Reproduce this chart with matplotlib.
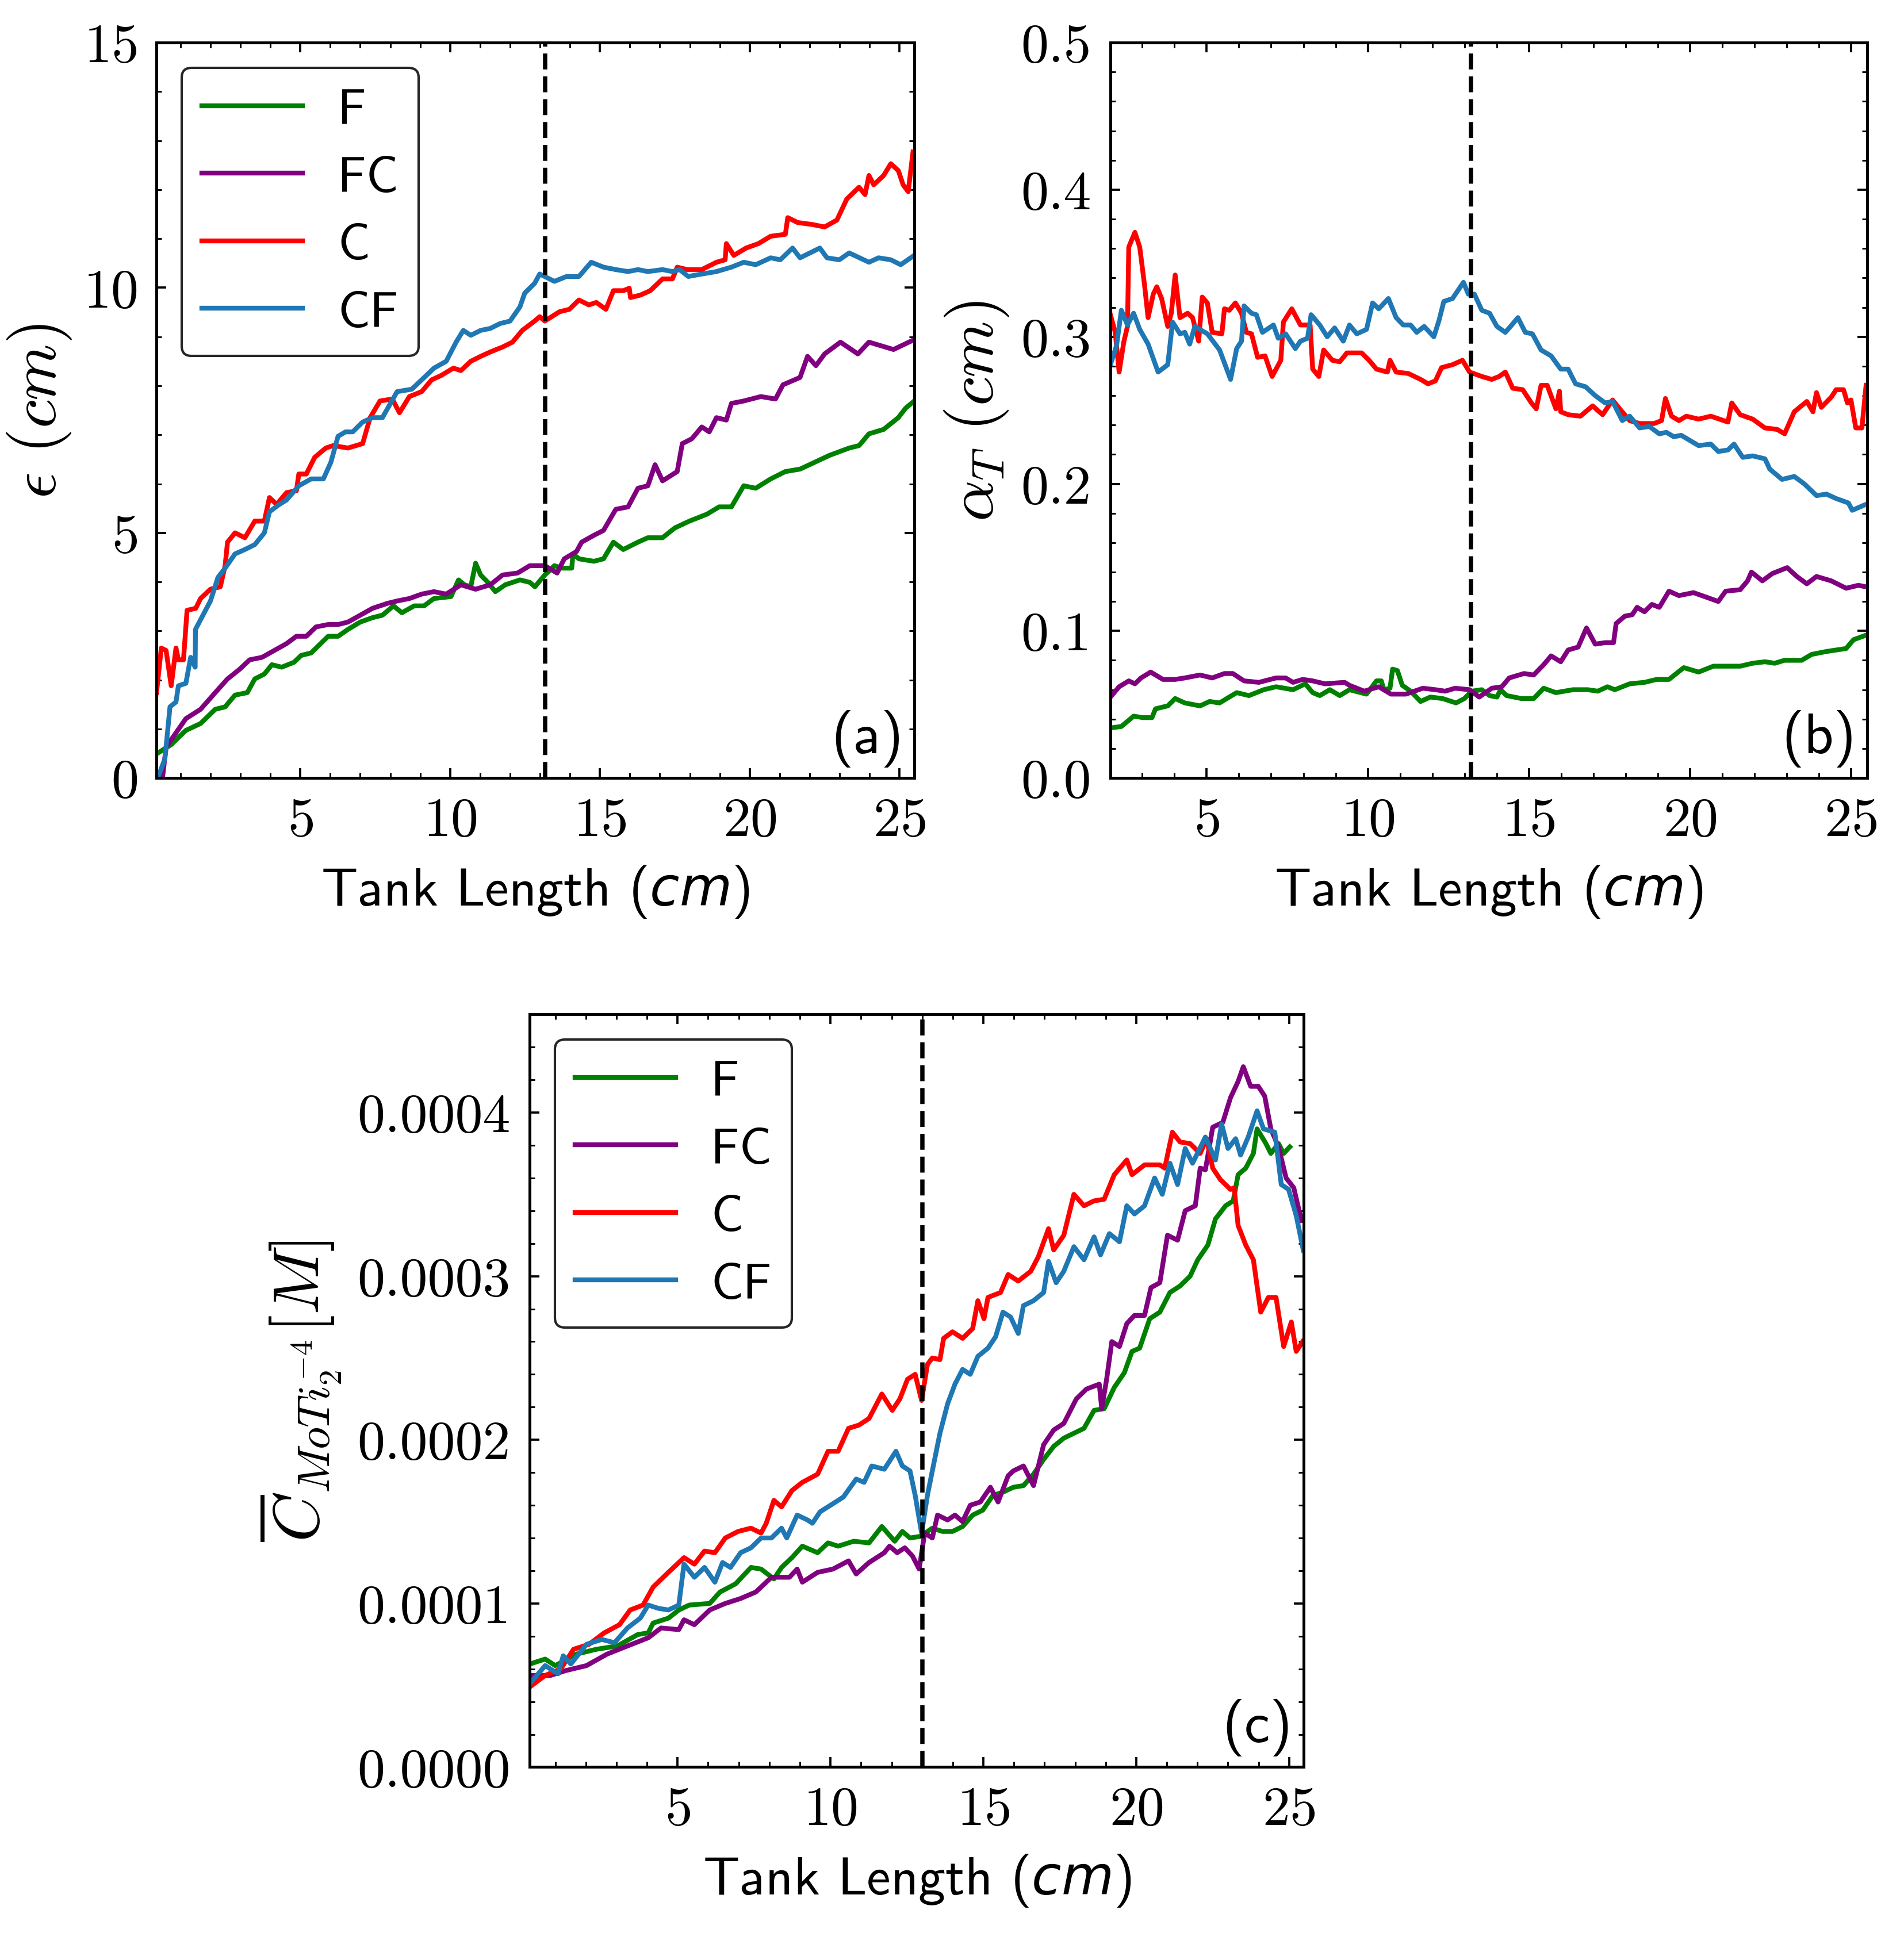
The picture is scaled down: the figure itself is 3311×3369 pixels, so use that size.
import matplotlib.pyplot as plt
from matplotlib.ticker import MultipleLocator, FormatStrFormatter

# ---- panel (a): epsilon (cm) vs tank length (cm) ----
aF_x = [0.2, 0.69, 1.18, 1.67, 2.16, 2.49, 2.82, 3.23, 3.48, 3.8,
        4.05, 4.38, 4.79, 5.03, 5.36, 5.61, 5.93, 6.26, 6.59, 7.0,
        7.41, 7.74, 8.11, 8.39, 8.8, 9.13, 9.46, 10.03, 10.28, 10.48,
        10.69, 10.85, 11.02, 11.26, 11.51, 11.84, 12.33, 12.66, 12.83, 13.16,
        13.48, 13.73, 14.06, 14.1, 14.3, 14.8, 15.12, 15.45, 15.78, 16.27,
        16.6, 17.09, 17.5, 17.99, 18.57, 18.98, 19.39, 19.8, 20.2, 20.7,
        21.19, 21.68, 22.17, 22.66, 23.32, 23.65, 23.98, 24.47, 24.96, 25.2,
        25.49]
aF = [0.49, 0.68, 0.97, 1.11, 1.40, 1.45, 1.69, 1.74, 2.02, 2.12,
      2.31, 2.26, 2.36, 2.50, 2.55, 2.70, 2.89, 2.89, 3.03, 3.18,
      3.27, 3.32, 3.51, 3.37, 3.51, 3.51, 3.66, 3.70, 4.04, 3.94,
      3.90, 4.38, 4.14, 3.99, 3.80, 3.94, 4.04, 3.99, 3.90, 4.14,
      4.33, 4.28, 4.28, 4.57, 4.47, 4.42, 4.47, 4.81, 4.66, 4.81,
      4.90, 4.90, 5.10, 5.24, 5.38, 5.53, 5.53, 5.96, 5.91, 6.10,
      6.25, 6.30, 6.44, 6.58, 6.73, 6.78, 7.02, 7.11, 7.35, 7.54,
      7.69]
aFC_x = [0.4, 0.52, 0.85, 1.18, 1.67, 2.16, 2.57, 2.98, 3.31, 3.72,
         4.13, 4.54, 4.87, 5.2, 5.52, 5.93, 6.26, 6.59, 7.0, 7.41,
         7.9, 8.23, 8.64, 9.05, 9.46, 9.87, 10.36, 10.85, 11.34, 11.75,
         12.25, 12.66, 13.16, 13.57, 13.81, 14.22, 14.39, 14.8, 15.12, 15.53,
         15.94, 16.27, 16.6, 16.84, 17.09, 17.58, 17.75, 18.07, 18.4, 18.65,
         18.89, 19.22, 19.39, 19.8, 20.37, 20.86, 21.11, 21.68, 21.93, 22.21,
         22.5, 23.03, 23.61, 23.98, 24.8, 25.45]
aFC = [0, 0.63, 0.92, 1.21, 1.40, 1.74, 2.02, 2.22, 2.41, 2.46,
       2.60, 2.74, 2.89, 2.89, 3.08, 3.13, 3.13, 3.18, 3.32, 3.46,
       3.56, 3.61, 3.66, 3.75, 3.80, 3.75, 3.94, 3.85, 3.94, 4.14,
       4.18, 4.33, 4.33, 4.18, 4.47, 4.62, 4.81, 4.95, 5.05, 5.48,
       5.53, 5.91, 5.96, 6.39, 6.06, 6.25, 6.82, 6.92, 7.16, 7.06,
       7.35, 7.30, 7.64, 7.69, 7.78, 7.73, 8.02, 8.17, 8.60, 8.41,
       8.65, 8.89, 8.65, 8.89, 8.74, 8.93]
aC_x = [0.2, 0.36, 0.52, 0.69, 0.85, 0.93, 1.1, 1.22, 1.51, 1.67,
        2.0, 2.33, 2.49, 2.57, 2.82, 3.15, 3.48, 3.8, 3.97, 4.21,
        4.54, 4.87, 4.95, 5.2, 5.48, 5.85, 6.1, 6.59, 7.08, 7.33,
        7.66, 8.07, 8.31, 8.64, 9.05, 9.38, 9.7, 10.11, 10.36, 10.69,
        11.02, 11.34, 11.75, 12.08, 12.41, 12.82, 12.99, 13.16, 13.65, 13.98,
        14.3, 14.63, 14.88, 15.2, 15.45, 15.78, 15.98, 16.02, 16.35, 16.68,
        17.09, 17.42, 17.58, 17.91, 18.4, 18.89, 19.18, 19.22, 19.47, 19.88,
        20.29, 20.7, 21.19, 21.27, 21.6, 22.09, 22.5, 22.91, 23.24, 23.65,
        23.85, 23.98, 24.14, 24.47, 24.71, 24.96, 25.12, 25.29, 25.45]
aC = [1.74, 2.65, 2.60, 1.88, 2.65, 2.41, 2.41, 3.42, 3.46, 3.66,
      3.85, 3.90, 4.33, 4.81, 5.00, 4.90, 5.24, 5.24, 5.72, 5.58,
      5.82, 5.86, 6.20, 6.20, 6.54, 6.73, 6.78, 6.73, 6.82, 7.35,
      7.69, 7.73, 7.45, 7.78, 7.88, 8.12, 8.21, 8.36, 8.31, 8.50,
      8.60, 8.69, 8.79, 8.89, 9.13, 9.32, 9.41, 9.32, 9.51, 9.56,
      9.75, 9.65, 9.70, 9.56, 9.94, 9.94, 9.99, 9.80, 9.85, 9.94,
      10.18, 10.18, 10.42, 10.37, 10.37, 10.52, 10.57, 10.90, 10.66, 10.81,
      10.90, 11.05, 11.09, 11.43, 11.33, 11.29, 11.24, 11.38, 11.81, 12.05,
      11.90, 12.29, 12.10, 12.29, 12.53, 12.39, 12.10, 11.96, 12.77]
aCF_x = [0.24, 0.48, 0.65, 0.85, 0.93, 1.18, 1.34, 1.49, 1.5, 1.75,
         2.0, 2.25, 2.49, 2.82, 3.15, 3.48, 3.8, 3.97, 4.3, 4.54,
         4.95, 5.36, 5.77, 6.02, 6.26, 6.51, 6.75, 7.08, 7.41, 7.74,
         8.23, 8.72, 9.05, 9.46, 9.87, 10.2, 10.44, 10.69, 11.02, 11.34,
         11.67, 12.0, 12.33, 12.49, 12.82, 12.99, 13.48, 13.89, 14.3, 14.71,
         15.12, 15.53, 15.94, 16.27, 16.6, 17.09, 17.42, 17.66, 17.95, 18.4,
         18.89, 19.39, 19.8, 20.2, 20.7, 21.02, 21.43, 21.68, 22.34, 22.58,
         22.99, 23.32, 23.98, 24.3, 24.71, 25.04, 25.49]
aCF = [0, 0.39, 1.45, 1.55, 1.88, 1.93, 2.46, 2.26, 3.03, 3.32,
       3.61, 4.09, 4.28, 4.57, 4.66, 4.76, 5.00, 5.43, 5.58, 5.67,
       5.96, 6.10, 6.10, 6.44, 6.97, 7.06, 7.06, 7.26, 7.35, 7.35,
       7.88, 7.93, 8.12, 8.36, 8.50, 8.89, 9.13, 9.03, 9.13, 9.17,
       9.27, 9.32, 9.61, 9.89, 10.09, 10.28, 10.13, 10.23, 10.23, 10.52,
       10.42, 10.37, 10.33, 10.37, 10.33, 10.37, 10.33, 10.37, 10.23, 10.28,
       10.33, 10.42, 10.52, 10.47, 10.61, 10.57, 10.81, 10.61, 10.81, 10.61,
       10.57, 10.71, 10.52, 10.61, 10.57, 10.47, 10.66]

# ---- panel (b): alpha_T (cm) vs tank length (cm) ----
bF_x = [2.01, 2.35, 2.73, 3.03, 3.3, 3.41, 3.79, 4.02, 4.32, 4.79,
        5.09, 5.4, 5.7, 5.93, 6.31, 6.77, 7.15, 7.68, 8.06, 8.29,
        8.51, 8.82, 9.13, 9.43, 9.96, 10.27, 10.42, 10.5, 10.69, 10.77,
        10.92, 11.07, 11.33, 11.64, 11.94, 12.32, 12.74, 13.0, 13.23, 13.54,
        13.78, 14.01, 14.12, 14.31, 14.77, 15.15, 15.46, 15.84, 16.37, 16.83,
        17.14, 17.44, 17.67, 18.13, 18.59, 18.97, 19.35, 19.81, 20.27, 20.73,
        21.18, 21.56, 21.95, 22.33, 22.63, 22.94, 23.47, 23.78, 24.24, 24.85,
        25.08, 25.46]
bF = [0.034, 0.035, 0.042, 0.041, 0.041, 0.047, 0.049, 0.054, 0.051, 0.049,
      0.052, 0.051, 0.055, 0.058, 0.056, 0.060, 0.062, 0.060, 0.064, 0.058,
      0.056, 0.060, 0.056, 0.060, 0.057, 0.066, 0.066, 0.060, 0.061, 0.074,
      0.073, 0.063, 0.059, 0.052, 0.055, 0.054, 0.051, 0.054, 0.059, 0.060,
      0.056, 0.055, 0.060, 0.056, 0.054, 0.054, 0.061, 0.058, 0.060, 0.060,
      0.059, 0.062, 0.060, 0.064, 0.065, 0.067, 0.067, 0.075, 0.072, 0.076,
      0.076, 0.076, 0.078, 0.079, 0.078, 0.080, 0.080, 0.084, 0.086, 0.088,
      0.094, 0.097]
bFC_x = [2.01, 2.28, 2.58, 2.77, 2.96, 3.26, 3.64, 4.02, 4.32, 4.79,
         5.17, 5.55, 5.81, 6.16, 6.62, 7.15, 7.45, 7.68, 7.98, 8.29,
         8.67, 9.28, 9.43, 9.89, 10.34, 10.72, 11.18, 11.71, 12.1, 12.4,
         12.71, 13.16, 13.46, 13.85, 14.16, 14.39, 14.85, 15.15, 15.46, 15.69,
         15.99, 16.22, 16.53, 16.79, 17.06, 17.37, 17.63, 17.71, 17.98, 18.21,
         18.36, 18.59, 18.82, 19.05, 19.35, 19.66, 20.11, 20.5, 20.88, 21.11,
         21.56, 21.79, 21.91, 22.25, 22.56, 23.02, 23.32, 23.63, 23.93, 24.39,
         24.85, 25.23, 25.46]
bFC = [0.055, 0.062, 0.066, 0.064, 0.068, 0.072, 0.067, 0.067, 0.068, 0.070,
       0.068, 0.071, 0.071, 0.066, 0.065, 0.068, 0.068, 0.065, 0.067, 0.066,
       0.064, 0.065, 0.063, 0.059, 0.062, 0.057, 0.057, 0.061, 0.060, 0.059,
       0.061, 0.060, 0.055, 0.061, 0.062, 0.068, 0.071, 0.070, 0.077, 0.083,
       0.079, 0.087, 0.089, 0.102, 0.091, 0.092, 0.092, 0.105, 0.110, 0.111,
       0.116, 0.113, 0.118, 0.116, 0.127, 0.124, 0.126, 0.123, 0.120, 0.127,
       0.128, 0.134, 0.140, 0.134, 0.139, 0.143, 0.137, 0.132, 0.137, 0.134,
       0.129, 0.131, 0.130]
bC_x = [2.01, 2.16, 2.28, 2.43, 2.54, 2.58, 2.77, 2.92, 3.07, 3.18,
        3.34, 3.45, 3.6, 3.79, 3.9, 4.02, 4.17, 4.41, 4.56, 4.75,
        4.86, 5.02, 5.17, 5.47, 5.55, 5.7, 5.89, 6.08, 6.23, 6.39,
        6.58, 6.81, 7.03, 7.3, 7.38, 7.64, 7.91, 8.21, 8.29, 8.48,
        8.63, 8.9, 9.13, 9.35, 9.81, 10.04, 10.27, 10.61, 10.69, 10.88,
        11.26, 11.64, 11.87, 12.1, 12.29, 12.63, 12.94, 13.16, 13.54, 13.85,
        14.08, 14.27, 14.5, 14.81, 15.08, 15.23, 15.38, 15.57, 15.84, 15.95,
        15.99, 16.22, 16.6, 16.98, 17.29, 17.6, 17.82, 18.13, 18.44, 18.89,
        19.12, 19.24, 19.43, 19.66, 19.89, 20.27, 20.65, 21.18, 21.3, 21.56,
        21.95, 22.33, 22.71, 22.94, 23.24, 23.63, 23.82, 23.93, 24.08, 24.39,
        24.54, 24.77, 24.89, 25.0, 25.15, 25.34, 25.47]
bC = [0.315, 0.303, 0.276, 0.297, 0.307, 0.361, 0.371, 0.361, 0.335, 0.313,
      0.329, 0.334, 0.326, 0.307, 0.316, 0.342, 0.313, 0.316, 0.313, 0.297,
      0.327, 0.323, 0.303, 0.302, 0.319, 0.318, 0.323, 0.316, 0.303, 0.302,
      0.286, 0.287, 0.273, 0.284, 0.310, 0.319, 0.308, 0.308, 0.278, 0.273,
      0.291, 0.284, 0.283, 0.289, 0.289, 0.284, 0.278, 0.276, 0.284, 0.276,
      0.275, 0.271, 0.268, 0.270, 0.279, 0.281, 0.284, 0.276, 0.273, 0.271,
      0.273, 0.276, 0.265, 0.264, 0.255, 0.251, 0.267, 0.267, 0.251, 0.263,
      0.249, 0.247, 0.246, 0.253, 0.247, 0.257, 0.251, 0.243, 0.241, 0.241,
      0.243, 0.258, 0.246, 0.243, 0.246, 0.244, 0.246, 0.242, 0.255, 0.247,
      0.244, 0.238, 0.237, 0.234, 0.249, 0.256, 0.249, 0.262, 0.252, 0.259,
      0.264, 0.264, 0.255, 0.257, 0.238, 0.238, 0.267]
bCF_x = [2.01, 2.2, 2.35, 2.54, 2.73, 2.92, 3.18, 3.49, 3.79, 3.94,
         4.17, 4.32, 4.47, 4.63, 5.02, 5.4, 5.74, 5.93, 6.08, 6.16,
         6.39, 6.54, 6.73, 7.07, 7.22, 7.45, 7.75, 7.91, 8.13, 8.24,
         8.51, 8.74, 8.97, 9.24, 9.43, 9.66, 9.96, 10.15, 10.34, 10.64,
         10.88, 11.1, 11.33, 11.52, 11.75, 12.05, 12.21, 12.36, 12.63, 12.97,
         13.12, 13.31, 13.54, 13.78, 14.01, 14.27, 14.47, 14.66, 14.89, 15.11,
         15.38, 15.69, 15.99, 16.22, 16.45, 16.76, 17.06, 17.37, 17.6, 17.9,
         18.13, 18.44, 18.74, 19.05, 19.27, 19.5, 19.73, 19.96, 20.27, 20.65,
         20.88, 21.18, 21.37, 21.64, 21.95, 22.33, 22.48, 22.86, 23.24, 23.55,
         23.93, 24.24, 24.54, 24.92, 25.04, 25.46]
bCF = [0.281, 0.294, 0.318, 0.308, 0.316, 0.305, 0.295, 0.276, 0.281, 0.310,
       0.302, 0.303, 0.295, 0.307, 0.302, 0.291, 0.271, 0.292, 0.297, 0.321,
       0.316, 0.315, 0.303, 0.308, 0.299, 0.302, 0.292, 0.297, 0.299, 0.315,
       0.308, 0.300, 0.306, 0.297, 0.308, 0.302, 0.305, 0.323, 0.319, 0.326,
       0.313, 0.308, 0.308, 0.303, 0.307, 0.300, 0.311, 0.324, 0.326, 0.337,
       0.329, 0.329, 0.318, 0.316, 0.307, 0.303, 0.308, 0.313, 0.303, 0.302,
       0.291, 0.287, 0.278, 0.278, 0.268, 0.266, 0.260, 0.255, 0.256, 0.243,
       0.246, 0.238, 0.239, 0.234, 0.235, 0.232, 0.233, 0.230, 0.226, 0.227,
       0.222, 0.223, 0.227, 0.218, 0.219, 0.217, 0.210, 0.203, 0.205, 0.200,
       0.192, 0.193, 0.190, 0.187, 0.182, 0.186]

# ---- panel (c): mean concentration, values in units of 1e-4 M ----
cF_x = [0.17, 0.67, 1.0, 1.68, 2.35, 3.03, 3.7, 4.04, 4.2, 4.7,
        5.04, 5.38, 6.05, 6.39, 6.9, 7.4, 7.73, 8.15, 8.4, 8.74,
        9.08, 9.58, 9.92, 10.25, 10.76, 11.26, 11.68, 12.1, 12.35, 12.6,
        12.94, 13.33, 13.66, 13.99, 14.32, 14.65, 14.98, 15.31, 15.64, 15.98,
        16.31, 16.64, 16.97, 17.3, 17.63, 17.96, 18.29, 18.62, 18.95, 19.28,
        19.61, 19.86, 20.11, 20.44, 20.77, 21.1, 21.43, 21.76, 22.01, 22.34,
        22.59, 22.92, 23.17, 23.33, 23.58, 23.83, 23.95, 24.24, 24.4, 24.65,
        24.82, 25.02]
cF = [0.63, 0.66, 0.62, 0.69, 0.72, 0.74, 0.81, 0.82, 0.88, 0.91,
      0.96, 0.99, 1.00, 1.07, 1.12, 1.22, 1.21, 1.15, 1.22, 1.28,
      1.35, 1.31, 1.37, 1.35, 1.38, 1.37, 1.47, 1.38, 1.44, 1.40,
      1.41, 1.46, 1.44, 1.44, 1.47, 1.54, 1.57, 1.66, 1.68, 1.71,
      1.72, 1.79, 1.88, 1.96, 2.01, 2.04, 2.07, 2.18, 2.19, 2.32,
      2.41, 2.54, 2.56, 2.74, 2.78, 2.90, 2.94, 3.00, 3.10, 3.19,
      3.35, 3.43, 3.46, 3.62, 3.66, 3.75, 3.90, 3.81, 3.75, 3.81,
      3.75, 3.79]
cFC_x = [0.17, 0.84, 1.35, 2.02, 2.69, 3.36, 4.04, 4.46, 5.04, 5.21,
         5.55, 6.05, 6.56, 7.06, 7.56, 8.07, 8.66, 8.91, 9.08, 9.58,
         10.08, 10.59, 10.84, 11.26, 11.76, 11.93, 12.18, 12.43, 12.68, 12.9,
         13.08, 13.33, 13.5, 13.83, 14.07, 14.32, 14.57, 14.9, 15.23, 15.48,
         15.81, 15.98, 16.31, 16.64, 16.97, 17.3, 17.63, 18.04, 18.37, 18.79,
         18.87, 19.03, 19.2, 19.45, 19.69, 19.94, 20.27, 20.48, 20.77, 21.02,
         21.35, 21.6, 21.93, 22.09, 22.26, 22.5, 22.83, 23.08, 23.33, 23.5,
         23.74, 23.99, 24.2, 24.4, 24.65, 24.9, 25.15, 25.4]
cFC = [0.56, 0.56, 0.59, 0.62, 0.69, 0.74, 0.79, 0.85, 0.84, 0.90,
       0.87, 0.96, 1.00, 1.03, 1.07, 1.16, 1.16, 1.21, 1.13, 1.19,
       1.21, 1.26, 1.18, 1.25, 1.31, 1.35, 1.31, 1.34, 1.29, 1.21,
       1.43, 1.40, 1.54, 1.51, 1.54, 1.50, 1.60, 1.62, 1.71, 1.62,
       1.78, 1.81, 1.84, 1.72, 1.97, 2.06, 2.10, 2.25, 2.31, 2.34,
       2.19, 2.37, 2.60, 2.57, 2.71, 2.76, 2.76, 2.93, 2.96, 3.25,
       3.22, 3.40, 3.43, 3.66, 3.65, 3.91, 3.94, 4.09, 4.19, 4.28,
       4.16, 4.16, 4.10, 3.90, 3.79, 3.60, 3.54, 3.34]
cC_x = [0.17, 0.67, 1.18, 1.6, 2.1, 2.6, 3.1, 3.45, 3.87, 4.2,
        4.7, 5.21, 5.55, 5.88, 6.22, 6.56, 6.98, 7.4, 7.73, 7.9,
        8.15, 8.4, 8.74, 9.08, 9.58, 9.92, 10.25, 10.59, 10.93, 11.26,
        11.68, 12.02, 12.27, 12.52, 12.77, 12.98, 13.17, 13.33, 13.58, 13.7,
        13.99, 14.32, 14.65, 14.82, 15.02, 15.15, 15.56, 15.81, 16.14, 16.55,
        16.8, 17.13, 17.3, 17.63, 17.96, 18.29, 18.62, 18.95, 19.28, 19.69,
        19.86, 20.27, 20.77, 20.93, 21.18, 21.43, 21.76, 22.09, 22.3, 22.5,
        22.75, 23.08, 23.2, 23.33, 23.58, 23.83, 24.07, 24.32, 24.57, 24.82,
        25.07, 25.23, 25.44]
cC = [0.49, 0.56, 0.60, 0.72, 0.75, 0.82, 0.87, 0.96, 0.99, 1.10,
      1.19, 1.28, 1.24, 1.32, 1.31, 1.40, 1.44, 1.46, 1.43, 1.49,
      1.63, 1.59, 1.69, 1.74, 1.79, 1.93, 1.93, 2.07, 2.09, 2.13,
      2.28, 2.18, 2.25, 2.37, 2.40, 2.24, 2.46, 2.50, 2.49, 2.62,
      2.66, 2.62, 2.68, 2.85, 2.74, 2.87, 2.90, 3.01, 2.97, 3.03,
      3.12, 3.29, 3.16, 3.25, 3.50, 3.43, 3.46, 3.47, 3.62, 3.71,
      3.62, 3.68, 3.68, 3.66, 3.88, 3.82, 3.81, 3.75, 3.84, 3.66,
      3.59, 3.53, 3.54, 3.31, 3.19, 3.10, 2.78, 2.87, 2.87, 2.57,
      2.72, 2.54, 2.60]
cCF_x = [0.17, 0.67, 1.09, 1.26, 1.51, 2.02, 2.52, 2.94, 3.36, 3.78,
         4.04, 4.37, 4.7, 5.04, 5.21, 5.55, 5.88, 6.22, 6.47, 6.73,
         7.06, 7.4, 7.73, 8.07, 8.4, 8.57, 8.91, 9.25, 9.41, 9.66,
         10.0, 10.42, 10.84, 11.1, 11.35, 11.76, 12.14, 12.35, 12.6, 12.77,
         12.98, 13.17, 13.33, 13.58, 13.83, 14.07, 14.32, 14.57, 14.82, 15.15,
         15.4, 15.64, 15.89, 16.14, 16.31, 16.64, 16.97, 17.13, 17.38, 17.63,
         17.96, 18.29, 18.62, 18.83, 19.12, 19.45, 19.69, 19.94, 20.27, 20.6,
         20.85, 21.1, 21.35, 21.6, 21.84, 22.26, 22.59, 22.79, 23.0, 23.25,
         23.41, 23.66, 23.95, 24.16, 24.53, 24.74, 24.98, 25.23, 25.46]
cCF = [0.51, 0.62, 0.57, 0.68, 0.63, 0.75, 0.78, 0.76, 0.85, 0.91,
       0.99, 0.97, 0.96, 0.99, 1.24, 1.16, 1.22, 1.13, 1.25, 1.22,
       1.31, 1.34, 1.40, 1.40, 1.46, 1.40, 1.54, 1.51, 1.49, 1.56,
       1.60, 1.65, 1.76, 1.74, 1.84, 1.82, 1.93, 1.84, 1.81, 1.66,
       1.43, 1.66, 1.81, 2.04, 2.22, 2.34, 2.43, 2.40, 2.51, 2.56,
       2.63, 2.78, 2.75, 2.65, 2.82, 2.85, 2.90, 3.09, 2.96, 3.03,
       3.18, 3.10, 3.24, 3.13, 3.26, 3.21, 3.43, 3.38, 3.43, 3.60,
       3.50, 3.69, 3.56, 3.78, 3.69, 3.85, 3.71, 3.93, 3.78, 3.84,
       3.74, 3.85, 4.01, 3.90, 3.88, 3.56, 3.53, 3.37, 3.16]

labels = ['F', 'FC', 'C', 'CF']
colors = ['green', 'purple', 'red', '#1f77b4']

plt.rcParams['font.family'] = 'cmss10'
plt.rcParams['mathtext.fontset'] = 'cm'
plt.rcParams['mathtext.it'] = 'DejaVu Sans:italic'
plt.rcParams['mathtext.rm'] = 'cmss10'
plt.rcParams['axes.unicode_minus'] = False
plt.rcParams['axes.formatter.use_mathtext'] = True

fig = plt.figure(figsize=(3311 / 300, 3370 / 300), dpi=300)
ax_a = fig.add_axes([0.0822, 0.5982, 0.3981, 0.3795])
ax_b = fig.add_axes([0.5832, 0.5982, 0.3974, 0.3795])
ax_c = fig.add_axes([0.2783, 0.0877, 0.4065, 0.3885])


def style(ax):
    ax.tick_params(which='both', direction='in', top=True, right=True,
                   labelsize=23, pad=8, labelfontfamily='cmr10')
    ax.tick_params(which='major', length=4, width=0.9)
    ax.tick_params(which='minor', length=2.2, width=0.7)
    for s in ax.spines.values():
        s.set_linewidth(1.2)
    ax.xaxis.set_major_locator(MultipleLocator(5))
    ax.xaxis.set_minor_locator(MultipleLocator(1))
    ax.set_xlabel('Tank Length ($cm$)', fontsize=22.5, labelpad=7,
                  math_fontfamily='custom')


def add_legend(ax):
    ax.legend(loc='upper left', fontsize=21, handlelength=2.0, handletextpad=0.7,
              labelspacing=0.45, edgecolor='0.15', framealpha=1)


# (a)
for xs, ys, lab, col in zip([aF_x, aFC_x, aC_x, aCF_x], [aF, aFC, aC, aCF], labels, colors):
    ax_a.plot(xs, ys, color=col, lw=2.0, label=lab)
ax_a.axvline(13.17, color='k', ls='--', lw=1.8)
ax_a.set_xlim(0.2, 25.5)
ax_a.set_ylim(0, 15)
ax_a.yaxis.set_major_locator(MultipleLocator(5))
ax_a.yaxis.set_minor_locator(MultipleLocator(1))
style(ax_a)
ax_a.set_ylabel(r'$\epsilon\ (cm)$', fontsize=27, math_fontfamily='cm')
add_legend(ax_a)
ax_a.text(0.985, 0.015, '(a)', transform=ax_a.transAxes, ha='right', va='bottom', fontsize=24)

# (b)
for xs, ys, lab, col in zip([bF_x, bFC_x, bC_x, bCF_x], [bF, bFC, bC, bCF], labels, colors):
    ax_b.plot(xs, ys, color=col, lw=2.0, label=lab)
ax_b.axvline(13.2, color='k', ls='--', lw=1.8)
ax_b.set_xlim(2.01, 25.5)
ax_b.set_ylim(0, 0.5)
ax_b.yaxis.set_major_locator(MultipleLocator(0.1))
ax_b.yaxis.set_minor_locator(MultipleLocator(0.02))
ax_b.yaxis.set_major_formatter(FormatStrFormatter('%.1f'))
style(ax_b)
ax_b.set_ylabel(r'$\alpha_T\ (cm)$', fontsize=27, math_fontfamily='cm')
ax_b.text(0.985, 0.015, '(b)', transform=ax_b.transAxes, ha='right', va='bottom', fontsize=24)

# (c)
for xs, ys, lab, col in zip([cF_x, cFC_x, cC_x, cCF_x], [cF, cFC, cC, cCF], labels, colors):
    ax_c.plot(xs, [v * 1e-4 for v in ys], color=col, lw=2.0, label=lab)
ax_c.axvline(13.0, color='k', ls='--', lw=1.8)
ax_c.set_xlim(0.17, 25.48)
ax_c.set_ylim(0, 0.00046)
ax_c.yaxis.set_major_locator(MultipleLocator(0.0001))
ax_c.yaxis.set_minor_locator(MultipleLocator(0.00002))
ax_c.yaxis.set_major_formatter(FormatStrFormatter('%.4f'))
style(ax_c)
ax_c.set_ylabel(r'$\overline{C}_{MoTi_2^{-4}}[M]$', fontsize=27, labelpad=6,
                math_fontfamily='cm')
add_legend(ax_c)
ax_c.text(0.985, 0.015, '(c)', transform=ax_c.transAxes, ha='right', va='bottom', fontsize=24)

fig.savefig('out.png', dpi=300)
